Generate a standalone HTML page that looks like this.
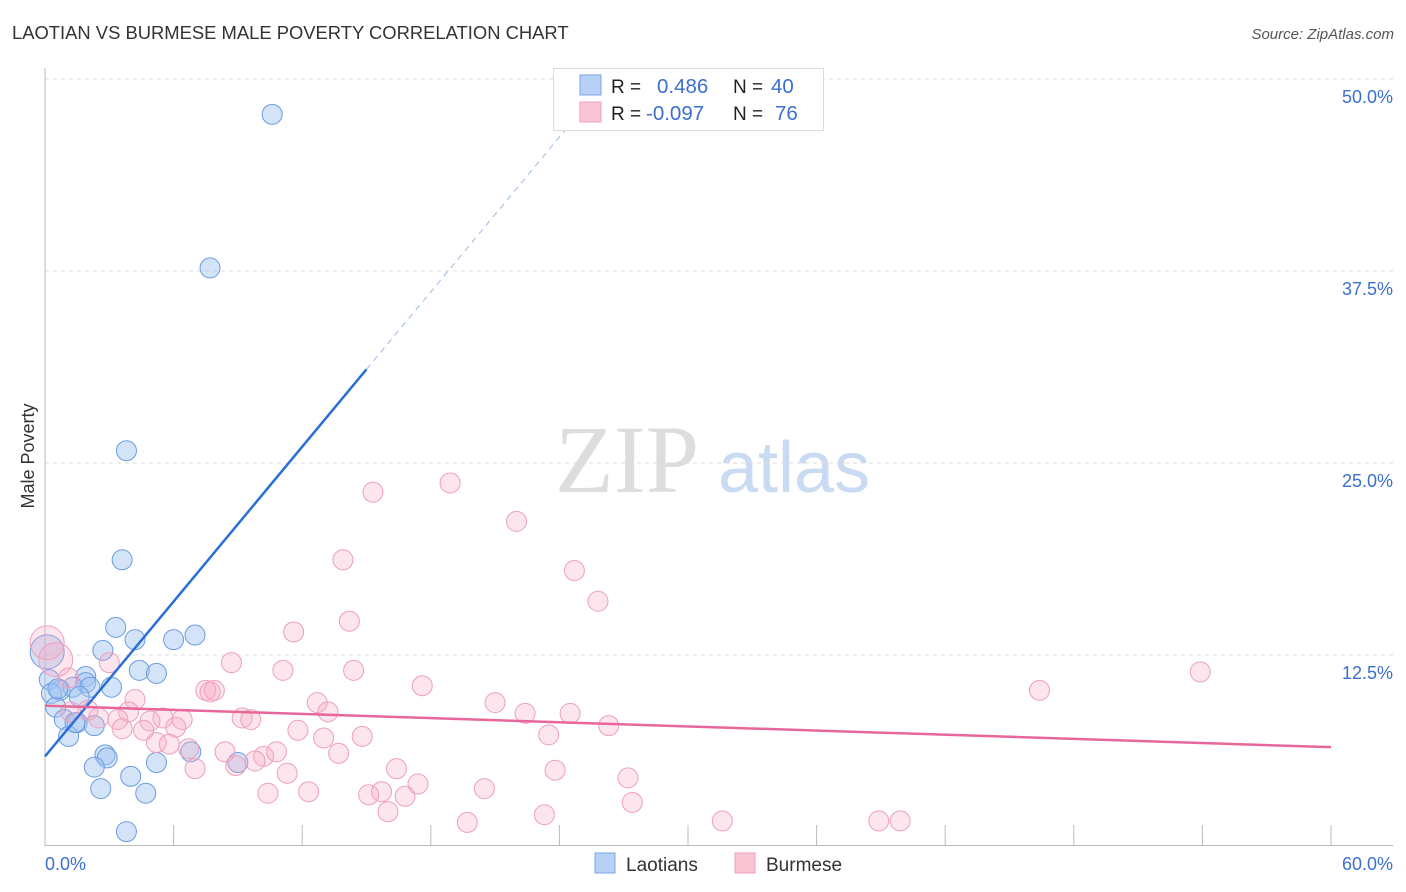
<!DOCTYPE html>
<html><head><meta charset="utf-8"><style>
body{margin:0;background:#fff;font-family:"Liberation Sans",sans-serif}
svg{display:block}
</style></head><body>
<svg width="1406" height="892" xmlns="http://www.w3.org/2000/svg">
<text x="12" y="39" font-size="18.4" fill="#333">LAOTIAN VS BURMESE MALE POVERTY CORRELATION CHART</text>
<text x="1394" y="39" font-size="15" fill="#555" font-style="italic" text-anchor="end">Source: ZipAtlas.com</text>
<g>
<text x="555" y="492" font-size="96" fill="#ddd" font-family="Liberation Serif,serif">ZIP</text>
<text x="718" y="492" font-size="72" fill="#c9daf3">atlas</text>
</g>
<g id="grid"></g>
<g id="axes"></g>
<g id="marks"></g>
<text x="34" y="456" font-size="18" fill="#333" text-anchor="middle" transform="rotate(-90 34 456)">Male Poverty</text>
<g>
<rect x="553.5" y="68.5" width="270" height="62" fill="#fff" stroke="#ddd"/>
<rect x="580" y="75" width="21" height="20" fill="#b7d0f5" stroke="#7aa6e6"/>
<rect x="580" y="102" width="21" height="20" fill="#f9c5d5" stroke="#eea0bb"/>
<text x="611" y="93" font-size="19" fill="#222">R =</text>
<text x="657" y="93" font-size="20.5" fill="#3b6fd0">0.486</text>
<text x="733" y="93" font-size="19" fill="#222">N =</text>
<text x="771" y="93" font-size="20.5" fill="#3b6fd0">40</text>
<text x="611" y="120" font-size="19" fill="#222">R =</text>
<text x="646" y="120" font-size="20.5" fill="#3b6fd0">-0.097</text>
<text x="733" y="120" font-size="19" fill="#222">N =</text>
<text x="775" y="120" font-size="20.5" fill="#3b6fd0">76</text>
</g>
<g>
<rect x="595" y="853" width="20" height="20" fill="#b7d0f5" stroke="#7aa6e6"/>
<text x="626" y="871" font-size="19" fill="#333">Laotians</text>
<rect x="735" y="853" width="20" height="20" fill="#f9c5d5" stroke="#eea0bb"/>
<text x="766" y="871" font-size="19" fill="#333">Burmese</text>
</g>
</svg>
<script>
const yTicks=[12.5,25,37.5,50];
const yTickLabels=["12.5%","25.0%","37.5%","50.0%"];
const xTickLabels=["0.0%","60.0%"];
const laoX=[10.6,7.7,3.8,3.6,3.3,4.2,6.0,7.0,2.7,0.1,4.4,5.2,1.9,1.9,0.2,0.7,1.3,2.1,3.1,0.3,1.6,0.5,0.9,1.5,2.3,1.1,2.8,2.9,6.8,5.2,2.3,9.0,4.0,2.6,4.7,3.8,1.4,0.6];
const laoY=[47.7,37.7,25.8,18.7,14.3,13.5,13.5,13.8,12.8,12.7,11.5,11.3,11.1,10.7,10.9,10.2,10.4,10.4,10.4,10.0,9.8,9.1,8.3,8.1,7.9,7.2,6.0,5.8,6.2,5.5,5.2,5.5,4.6,3.8,3.5,1.0,8.1,10.3];
const burX=[15.3,18.9,22.0,13.9,24.7,25.8,14.2,11.6,0.1,3.0,8.7,11.1,14.4,53.9,17.6,7.5,7.9,46.4,7.7,4.2,12.7,21.0,13.2,2.0,3.9,22.4,24.5,1.2,5.5,4.9,6.4,9.2,9.6,3.4,2.5,3.6,6.1,26.3,11.8,4.6,13.0,14.8,23.5,5.2,5.8,6.7,8.4,10.8,13.7,10.2,9.8,8.9,7.0,16.4,11.3,23.8,27.2,17.4,15.7,20.5,10.4,12.3,15.1,16.8,27.4,16.0,23.3,19.7,31.6,38.9,39.9,0.5,1.1];
const burY=[23.1,23.7,21.2,18.7,18.0,16.0,14.7,14.0,13.3,12.0,12.0,11.5,11.5,11.4,10.5,10.2,10.2,10.2,10.1,9.6,9.4,9.4,8.8,8.9,8.8,8.7,8.7,8.8,8.4,8.2,8.3,8.4,8.3,8.3,8.4,7.7,7.8,7.9,7.6,7.6,7.1,7.2,7.3,6.8,6.7,6.4,6.2,6.2,6.1,5.9,5.6,5.3,5.1,5.1,4.8,5.0,4.5,4.1,3.6,3.8,3.5,3.6,3.4,3.3,2.9,2.3,2.1,1.6,1.7,1.7,1.7,12.2,11.0];
const laoFit=[5.9,1.68];
const burFit=[9.2,-0.045];
const NS="http://www.w3.org/2000/svg";
const X=v=>45+v/60*1286, Y=v=>847-v/50*768;
function mk(p,t,a){const e=document.createElementNS(NS,t);for(const k in a)e.setAttribute(k,a[k]);p.appendChild(e);return e;}
const grid=document.getElementById('grid'),axes=document.getElementById('axes'),marks=document.getElementById('marks');
yTicks.forEach((t,i)=>{
 const l=mk(grid,'line',{x1:45,x2:1393,y1:Y(t),y2:Y(t),stroke:'#ddd','stroke-dasharray':'4,4'});
 
 
 const tx=mk(axes,'text',{x:1393,y:Y(t)+24,'font-size':18,fill:'#3b6fd0','text-anchor':'end'});tx.textContent=yTickLabels[i];
 
 
});
mk(axes,'line',{x1:45,x2:45,y1:68,y2:846,stroke:'#bbb'});
mk(axes,'line',{x1:45,x2:1393,y1:845.5,y2:845.5,stroke:'#bbb'});
for(let i=0;i<=10;i++){const x=X(i*6);const t=mk(axes,'line',{x1:x,x2:x,y1:825,y2:845,stroke:'#bbb'});
 
 }
let a=mk(axes,'text',{x:45,y:870,'font-size':18,fill:'#3b6fd0'});a.textContent=xTickLabels[0];


a=mk(axes,'text',{x:1393,y:870,'font-size':18,fill:'#3b6fd0','text-anchor':'end'});a.textContent=xTickLabels[1];


laoX.forEach((x,i)=>{const r=(x<0.3&&laoY[i]>12)?17:10;const c=mk(marks,'circle',{cx:X(x),cy:Y(laoY[i]),r:r,fill:'rgba(160,196,240,0.45)',stroke:'#6a9be0','stroke-width':1});
 
 });
burX.forEach((x,i)=>{const r=(x<0.6&&burY[i]>12)?17:10;const c=mk(marks,'circle',{cx:X(x),cy:Y(burY[i]),r:r,fill:'rgba(245,170,195,0.3)',stroke:'#ee9fbc','stroke-width':1});
 
 });
let l=mk(marks,'line',{x1:X(0),y1:Y(laoFit[0]),x2:X(15),y2:Y(laoFit[0]+laoFit[1]*15),stroke:'#2a6fd6','stroke-width':2.5});


l=mk(marks,'line',{x1:X(15),y1:Y(laoFit[0]+laoFit[1]*15),x2:X(24.7),y2:Y(laoFit[0]+laoFit[1]*24.7),stroke:'#9bbbe6','stroke-width':1,'stroke-dasharray':'6,5'});


l=mk(marks,'line',{x1:X(0),y1:Y(burFit[0]),x2:X(60),y2:Y(burFit[0]+burFit[1]*60),stroke:'#e8679a','stroke-width':2.5});


</script>
</body></html>
